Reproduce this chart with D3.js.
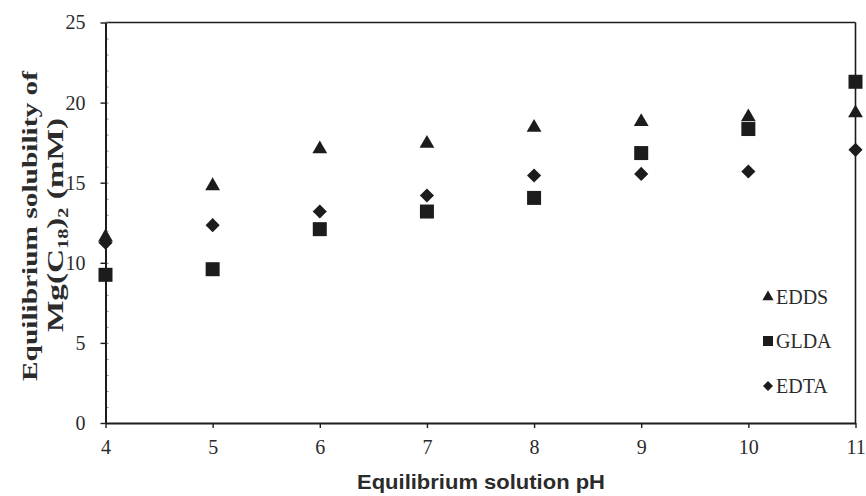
<!DOCTYPE html>
<html>
<head>
<meta charset="utf-8">
<script src="https://cdn.jsdelivr.net/npm/d3@7"></script>
<style>
  body { margin: 0; background: #fff; }
  text { font-family: "Liberation Serif", "Times New Roman", serif; fill: #2b2b2b; }
</style>
</head>
<body>
<script>
// values
let ph = [4, 5, 6, 7, 8, 9, 10, 11]
let edds = [11.6, 14.8, 17.1, 17.45, 18.45, 18.8, 19.1, 19.35]
let glda = [9.25, 9.6, 12.1, 13.2, 14.05, 16.85, 18.35, 21.3]
let edta = [11.25, 12.35, 13.2, 14.2, 15.45, 15.55, 15.7, 17.05]
let seriesNames = ["EDDS", "GLDA", "EDTA"]
let xTicks = [4, 5, 6, 7, 8, 9, 10, 11]
let yTicks = [0, 5, 10, 15, 20, 25]

let w = 866
let h = 496
let plotLeft = 105.5, plotRight = 855.5, plotTop = 22.5, plotBottom = 423
let ink = "#1c1c1c"

let svg = d3.select("body").append("svg")
  .attr("width", w)
  .attr("height", h)

let xScale = d3.scaleLinear().domain([4, 11]).range([plotLeft, plotRight])
let yScale = d3.scaleLinear().domain([0, 25]).range([plotBottom, plotTop])

// frame: top and right lines
svg.append("line")
  .attr("x1", plotLeft).attr("x2", plotRight)
  .attr("y1", plotTop).attr("y2", plotTop)
  .attr("stroke", ink).attr("stroke-width", 1.6)
svg.append("line")
  .attr("x1", plotRight).attr("x2", plotRight)
  .attr("y1", plotTop).attr("y2", plotBottom)
  .attr("stroke", ink).attr("stroke-width", 1.6)

// minor ticks on y axis (inward)
let yMinor = svg.append("g")
  .attr("transform", "translate(" + plotLeft + ",0)")
  .call(d3.axisRight(yScale).tickValues(d3.range(0, 26, 1)).tickSize(3).tickFormat(""))
yMinor.select(".domain").remove()
yMinor.selectAll("line").attr("stroke", "#888").attr("stroke-width", 1)

let xAxis = svg.append("g")
  .attr("transform", "translate(0," + plotBottom + ")")
  .call(d3.axisBottom(xScale).tickValues(xTicks).tickFormat(d3.format("d")).tickSize(5).tickPadding(12).tickSizeOuter(0))
xAxis.select(".domain").attr("stroke", ink).attr("stroke-width", 2)
xAxis.selectAll("line").attr("stroke", ink).attr("stroke-width", 1.4)
xAxis.selectAll("text")
  .style("font-family", "Liberation Serif, serif")
  .style("font-size", "20px")
  .attr("fill", "#3a3a3a")

let yAxis = svg.append("g")
  .attr("transform", "translate(" + plotLeft + ",0)")
  .call(d3.axisLeft(yScale).tickValues(yTicks).tickSize(5).tickPadding(15).tickSizeOuter(0))
yAxis.select(".domain").attr("stroke", ink).attr("stroke-width", 2)
yAxis.selectAll("line").attr("stroke", ink).attr("stroke-width", 1.4)
yAxis.selectAll("text")
  .style("font-family", "Liberation Serif, serif")
  .style("font-size", "20px")
  .attr("fill", "#3a3a3a")

// marker shapes
let triangle = d3.symbol().type(d3.symbolTriangle).size(95)
let square = d3.symbol().type(d3.symbolSquare).size(196)
let diamond = d3.symbol().type(d3.symbolSquare).size(100)

let series = [
  {name: seriesNames[0], values: edds, path: triangle(), rot: 0, legendPath: d3.symbol().type(d3.symbolTriangle).size(55)()},
  {name: seriesNames[1], values: glda, path: square(), rot: 0, legendPath: d3.symbol().type(d3.symbolSquare).size(100)()},
  {name: seriesNames[2], values: edta, path: diamond(), rot: 45, legendPath: d3.symbol().type(d3.symbolSquare).size(50)()}
]

series.forEach((s)=>{
  svg.append("g").selectAll("path")
    .data(s.values)
    .enter()
    .append("path")
    .attr("d", s.path)
    .attr("fill", ink)
    .attr("transform", (d, i)=>"translate(" + xScale(ph[i]) + "," + yScale(d) + ") rotate(" + s.rot + ")")
})

// legend
let legendY = [297, 341, 386]
series.forEach((s, i)=>{
  svg.append("path")
    .attr("d", s.legendPath)
    .attr("fill", ink)
    .attr("transform", "translate(768," + legendY[i] + ") rotate(" + s.rot + ")")
  svg.append("text")
    .text(s.name)
    .attr("x", 776)
    .attr("y", legendY[i] + 7)
    .attr("fill", "#333")
    .style("font-size", "20px")
})

// axis titles
svg.append("text")
  .text("Equilibrium solution pH")
  .attr("x", 481)
  .attr("y", 489)
  .attr("text-anchor", "middle")
  .attr("textLength", 248)
  .attr("lengthAdjust", "spacingAndGlyphs")
  .style("font-family", "'Liberation Sans Narrow', 'Liberation Sans', sans-serif")
  .style("font-weight", "bold")
  .style("font-size", "21px")

svg.append("text")
  .text("Equilibrium solubility of")
  .attr("transform", "translate(37,226) rotate(-90)")
  .attr("text-anchor", "middle")
  .attr("textLength", 310)
  .attr("lengthAdjust", "spacingAndGlyphs")
  .attr("fill", "#444")
  .style("font-weight", "bold")
  .style("font-size", "22px")

let l2 = svg.append("text")
  .attr("transform", "translate(63,225) rotate(-90)")
  .attr("text-anchor", "middle")
  .attr("textLength", 214)
  .attr("lengthAdjust", "spacingAndGlyphs")
  .attr("fill", "#444")
  .style("font-weight", "bold")
  .style("font-size", "23px")
l2.append("tspan").text("Mg(C")
l2.append("tspan").text("18").attr("dy", 5).style("font-size", "14px")
l2.append("tspan").text(")").attr("dy", -5)
l2.append("tspan").text("2").attr("dy", 5).style("font-size", "14px")
l2.append("tspan").text(" (mM)").attr("dy", -5)
</script>
</body>
</html>
